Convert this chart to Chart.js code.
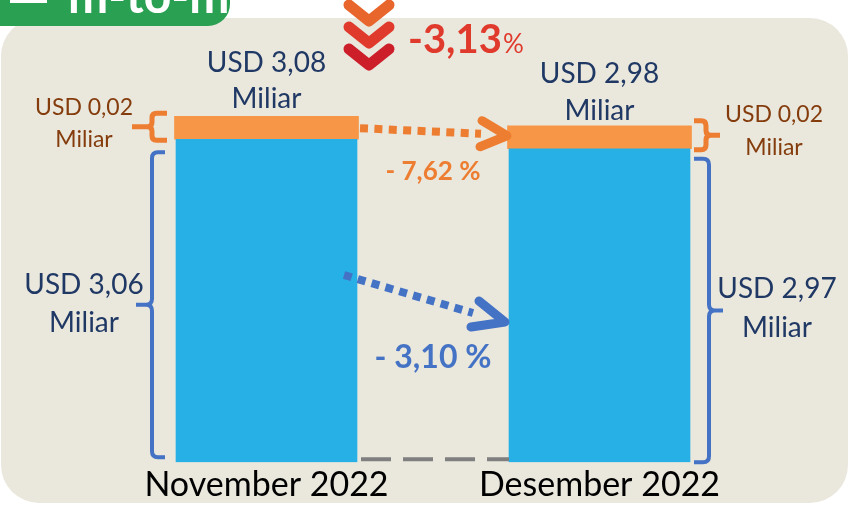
<!DOCTYPE html>
<html>
<head>
<meta charset="utf-8">
<script src="https://cdn.jsdelivr.net/npm/chart.js@4"></script>
<style>
  html, body { margin: 0; padding: 0; background: #fff; }
  #chart { display: block; }
</style>
</head>
<body>
<canvas id="chart" width="849" height="508"></canvas>
<script>
// values (USD miliar)
const categories = ['November 2022', 'Desember 2022'];
const nilaiUtama = [3.06, 2.97];   // blue part
const nilaiKecil = [0.02, 0.02];   // orange part
const nilaiTotal = [3.08, 2.98];
const ubahTotal = -3.13;
const ubahUtama = -3.10;
const ubahKecil = -7.62;

const BLUE = '#27b0e6';
const ORANGE = '#f79646';
const NAVY = '#1f3864';
const BROWN = '#843c0c';
const FONT = 'Lato';

function fmt(v) { return v.toFixed(2).replace('.', ','); }

function bracket(ctx, sx, ax, tx, top, bot, color, lw) {
  const mid = (top + bot) / 2;
  const d = Math.sign(ax - sx);
  const r = Math.min(6, (bot - top) / 6);
  ctx.save();
  ctx.strokeStyle = color;
  ctx.lineWidth = lw;
  ctx.lineJoin = 'round';
  ctx.beginPath();
  ctx.moveTo(ax, top);
  ctx.lineTo(sx + d * r, top);
  ctx.quadraticCurveTo(sx, top, sx, top + r);
  ctx.lineTo(sx, mid - r);
  ctx.quadraticCurveTo(sx, mid, sx - d * r, mid);
  ctx.lineTo(tx, mid);
  ctx.moveTo(sx - d * r, mid);
  ctx.quadraticCurveTo(sx, mid, sx, mid + r);
  ctx.lineTo(sx, bot - r);
  ctx.quadraticCurveTo(sx, bot, sx + d * r, bot);
  ctx.lineTo(ax, bot);
  ctx.stroke();
  ctx.restore();
}

function dottedArrow(ctx, x0, y0, x1, y1, tip, armA, armB, color, lw) {
  ctx.save();
  ctx.strokeStyle = color;
  ctx.lineWidth = lw;
  ctx.setLineDash([lw, lw * 0.8]);
  ctx.beginPath();
  ctx.moveTo(x0, y0);
  ctx.lineTo(x1, y1);
  ctx.stroke();
  ctx.setLineDash([]);
  ctx.lineCap = 'round';
  ctx.lineJoin = 'round';
  ctx.lineWidth = lw + 1;
  ctx.beginPath();
  ctx.moveTo(armA[0], armA[1]);
  ctx.lineTo(tip[0], tip[1]);
  ctx.lineTo(armB[0], armB[1]);
  ctx.stroke();
  ctx.restore();
}

function text(ctx, str, x, y, font, color, align) {
  ctx.font = font;
  ctx.fillStyle = color;
  ctx.textAlign = align || 'center';
  ctx.textBaseline = 'alphabetic';
  ctx.fillText(str, x, y);
}

const decorPlugin = {
  id: 'decor',
  beforeDraw(chart) {
    const ctx = chart.ctx;
    ctx.save();
    ctx.fillStyle = '#ffffff';
    ctx.fillRect(0, 0, chart.width, chart.height);
    ctx.fillStyle = '#eae7dd';
    ctx.beginPath();
    ctx.roundRect(1, 18, 847, 485, 38);
    ctx.fill();
    // green tab
    ctx.fillStyle = '#2aa052';
    ctx.beginPath();
    ctx.roundRect(-30, -30, 260, 56, 22);
    ctx.fill();
    ctx.fillStyle = '#ffffff';
    ctx.fillRect(10, 0, 37, 3);
    text(ctx, 'm-to-m', 68, 13, 'bold 48px ' + FONT, '#ffffff', 'left');
    ctx.restore();
  },
  afterDatasetsDraw(chart) {
    const ctx = chart.ctx;
    const blue = chart.getDatasetMeta(0).data;
    const orng = chart.getDatasetMeta(1).data;
    const nov = blue[0], des = blue[1];
    const novO = orng[0], desO = orng[1];
    const nL = nov.x - nov.width / 2, nR = nov.x + nov.width / 2;
    const dL = des.x - des.width / 2, dR = des.x + des.width / 2;
    const base = nov.base;
    const midX = (nov.x + des.x) / 2;

    ctx.save();
    // grey dashed base line between bars
    ctx.strokeStyle = '#7f7f7f';
    ctx.lineWidth = 4;
    ctx.setLineDash([30, 12]);
    ctx.beginPath();
    ctx.moveTo(nR + 4, base - 3);
    ctx.lineTo(dL, base - 3);
    ctx.stroke();
    ctx.setLineDash([]);

    // brackets
    bracket(ctx, nL - 24, nL - 11, nL - 40, nov.y + 13, base - 5, '#4472c4', 4);
    bracket(ctx, dR + 19, dR + 4, dR + 33, des.y + 10, base, '#4472c4', 4);
    bracket(ctx, nL - 24, nL - 9, nL - 44, novO.y - 3, novO.base + 1, '#ed7d31', 5);
    bracket(ctx, dR + 16, dR + 4, dR + 30, desO.y - 5, desO.base + 1, '#ed7d31', 5);

    // arrows
    dottedArrow(ctx, nR + 3, novO.y + 12, desO.x - des.width / 2 - 28, desO.y + 8,
      [dL - 2, desO.y + 10], [dL - 27, desO.y - 5], [dL - 29, desO.y + 21], '#ed7d31', 8);
    dottedArrow(ctx, nL + 168, 275, dL - 36, 313,
      [dL - 4, 322], [dL - 30, 301], [dL - 38, 327], '#4472c4', 8);

    // chevrons
    ctx.lineCap = 'round';
    ctx.lineJoin = 'round';
    ctx.lineWidth = 11;
    const chevCols = ['#e8662c', '#e03a2c', '#cc1f2a'];
    for (let i = 0; i < 3; i++) {
      const y = 5 + i * 22;
      ctx.strokeStyle = chevCols[i];
      ctx.beginPath();
      ctx.moveTo(midX - 84, y);
      ctx.lineTo(midX - 64, y + 16);
      ctx.lineTo(midX - 44, y);
      ctx.stroke();
    }

    // total change
    const tot = '-' + fmt(Math.abs(ubahTotal));
    text(ctx, tot, midX - 25, 53, 'bold 40px ' + FONT, '#e03a2c', 'left');
    ctx.font = 'bold 40px ' + FONT;
    const tw = ctx.measureText(tot).width;
    text(ctx, '%', midX - 25 + tw + 1, 53, '26px ' + FONT, '#e03a2c', 'left');

    // totals above bars
    text(ctx, 'USD ' + fmt(nilaiTotal[0]), nov.x, 72, '28px ' + FONT, NAVY);
    text(ctx, 'Miliar', nov.x, 108, '28px ' + FONT, NAVY);
    text(ctx, 'USD ' + fmt(nilaiTotal[1]), des.x, 83, '28px ' + FONT, NAVY);
    text(ctx, 'Miliar', des.x, 120, '28px ' + FONT, NAVY);

    // small part labels
    text(ctx, 'USD ' + fmt(nilaiKecil[0]), 84, 115, '23px ' + FONT, BROWN);
    text(ctx, 'Miliar', 84, 147, '23px ' + FONT, BROWN);
    text(ctx, 'USD ' + fmt(nilaiKecil[1]), 774, 122, '23px ' + FONT, BROWN);
    text(ctx, 'Miliar', 774, 155, '23px ' + FONT, BROWN);

    // main part labels
    text(ctx, 'USD ' + fmt(nilaiUtama[0]), 84, 294, '28px ' + FONT, NAVY);
    text(ctx, 'Miliar', 84, 332, '28px ' + FONT, NAVY);
    text(ctx, 'USD ' + fmt(nilaiUtama[1]), 777, 298, '28px ' + FONT, NAVY);
    text(ctx, 'Miliar', 777, 337, '28px ' + FONT, NAVY);

    // part changes
    text(ctx, '- ' + fmt(Math.abs(ubahKecil)) + ' %', midX, 180, 'bold 26px ' + FONT, '#ed7d31');
    text(ctx, '- ' + fmt(Math.abs(ubahUtama)) + ' %', midX, 368, 'bold 32px ' + FONT, '#4472c4');
    ctx.restore();
  }
};

new Chart(document.getElementById('chart'), {
  type: 'bar',
  data: {
    labels: categories,
    datasets: [
      { label: 'Utama', data: nilaiUtama, backgroundColor: BLUE, barThickness: 181 },
      { label: 'Lainnya', data: nilaiKecil, backgroundColor: ORANGE, barThickness: 184, minBarLength: 23 }
    ]
  },
  options: {
    responsive: false,
    animation: false,
    layout: { padding: { left: 100, right: 83, top: 40, bottom: 1 } },
    plugins: { legend: { display: false }, tooltip: { enabled: false } },
    scales: {
      x: {
        stacked: true,
        grid: { display: false, drawTicks: false },
        border: { display: false },
        ticks: { color: '#000', font: { family: FONT, size: 34 }, padding: 2 }
      },
      y: { stacked: true, display: false, min: 0, max: 4 }
    }
  },
  plugins: [decorPlugin]
});
</script>
</body>
</html>
